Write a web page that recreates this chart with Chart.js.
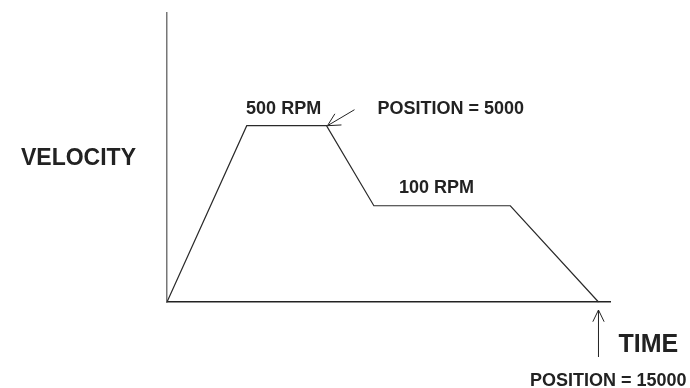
<!DOCTYPE html>
<html>
<head>
<meta charset="utf-8">
<script src="https://cdn.jsdelivr.net/npm/chart.js@4"></script>
<style>
  html, body { margin: 0; padding: 0; background: #fff; }
  #wrap { width: 690px; height: 388px; }
</style>
</head>
<body>
<div id="wrap"><canvas id="profileChart"></canvas></div>
<script>
// velocity profile: time (arbitrary units) vs velocity (arbitrary units)
const timeValues = [0, 18, 36, 46.7, 77.5, 97.4];
const velocityValues = [0, 61, 61, 33.3, 33.3, 0];
const axisTitles = { y: 'VELOCITY', x: 'TIME' };
const plateauLabels = ['500 RPM', '100 RPM'];
const positionLabels = ['POSITION = 5000', 'POSITION = 15000'];

const FONT = '"Liberation Sans", Arial, Helvetica, sans-serif';
const INK = '#222';

function arrow(ctx, tx, ty, fx, fy, len, half) {
  ctx.beginPath();
  ctx.moveTo(fx, fy);
  ctx.lineTo(tx, ty);
  const a = Math.atan2(fy - ty, fx - tx);
  ctx.moveTo(tx + len * Math.cos(a - half), ty + len * Math.sin(a - half));
  ctx.lineTo(tx, ty);
  ctx.lineTo(tx + len * Math.cos(a + half), ty + len * Math.sin(a + half));
  ctx.stroke();
}

// texte e setas desenhados a partir das escalas
const labelsPlugin = {
  id: 'profileLabels',
  afterDraw(chart) {
    const ctx = chart.ctx;
    const xs = chart.scales.x, ys = chart.scales.y;
    const p = timeValues.map((t, i) => ({ x: xs.getPixelForValue(t), y: ys.getPixelForValue(velocityValues[i]) }));
    const area = chart.chartArea;
    ctx.save();
    ctx.fillStyle = INK;
    ctx.textBaseline = 'alphabetic';

    ctx.font = 'bold 18px ' + FONT;
    ctx.textAlign = 'center';
    ctx.fillText(plateauLabels[0], (p[1].x + p[2].x) / 2 - 3, p[1].y - 12);
    ctx.textAlign = 'left';
    ctx.fillText(plateauLabels[1], p[3].x + 25, p[3].y - 12.5);
    ctx.fillText(positionLabels[0], p[2].x + 51, p[2].y - 11.5);
    ctx.textAlign = 'right';
    ctx.fillText(positionLabels[1], p[5].x + 88, area.bottom + 84);

    ctx.font = 'bold 23px ' + FONT;
    ctx.textAlign = 'right';
    ctx.fillText(axisTitles.y, area.left - 31, (area.top + area.bottom) / 2 + 7);

    ctx.font = 'bold 25px ' + FONT;
    ctx.textAlign = 'left';
    ctx.fillText(axisTitles.x, p[5].x + 20, area.bottom + 50);

    ctx.strokeStyle = INK;
    ctx.lineWidth = 1;
    arrow(ctx, p[2].x + 1, p[2].y, p[2].x + 28, p[2].y - 16, 14, 0.48);
    arrow(ctx, p[5].x, area.bottom + 8, p[5].x, area.bottom + 55, 13, 0.45);
    ctx.restore();
  }
};

const ctx = document.getElementById('profileChart').getContext('2d');

new Chart(ctx, {
  type: 'line',
  data: {
    datasets: [{
      data: timeValues.map((t, i) => ({ x: t, y: velocityValues[i] })),
      borderColor: '#2a2a2a',
      borderWidth: 1.2,
      pointRadius: 0,
      tension: 0,
      fill: false,
      clip: false
    }]
  },
  options: {
    responsive: true,
    maintainAspectRatio: false,
    animation: false,
    layout: { padding: { left: 167, right: 80, top: 13, bottom: 86 } },
    plugins: {
      legend: { display: false },
      tooltip: { enabled: false }
    },
    scales: {
      x: {
        type: 'linear',
        min: 0,
        max: 100,
        grid: { display: false },
        ticks: { display: false },
        border: { display: true, color: '#222', width: 1.5 },
        afterFit: s => { s.height = 0; }
      },
      y: {
        min: 0,
        max: 100,
        grid: { display: false },
        ticks: { display: false },
        border: { display: true, color: '#777', width: 1.5 },
        afterFit: s => { s.width = 0; }
      }
    }
  },
  plugins: [labelsPlugin]
});
</script>
</body>
</html>
